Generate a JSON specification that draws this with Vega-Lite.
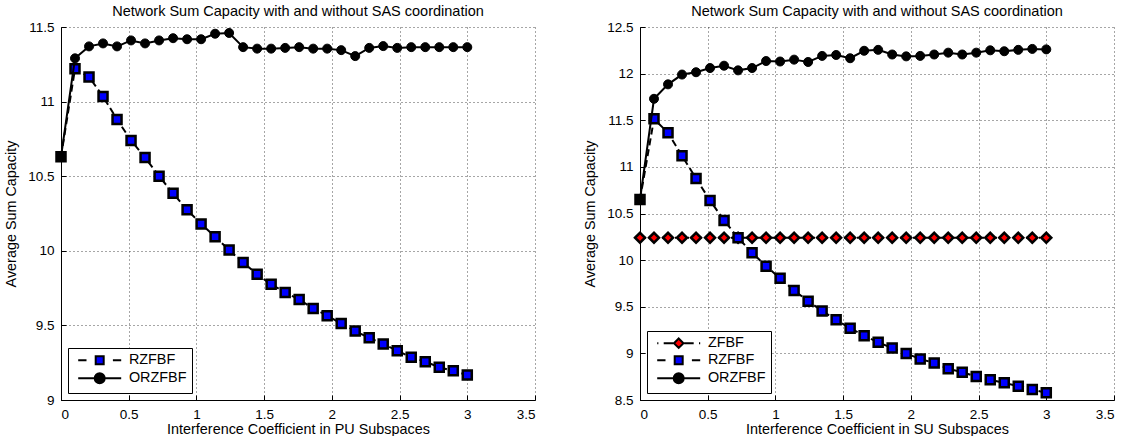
{
  "$schema": "https://vega.github.io/schema/vega-lite/v6.json",
  "padding": {"left": 3, "top": 3, "right": 0, "bottom": 0},
  "background": "white",
  "config": {
    "font": "Liberation Sans",
    "view": {"stroke": null},
    "axis": {
      "labelFont": "Liberation Sans", "labelFontSize": 13.5, "labelColor": "black",
      "titleFont": "Liberation Sans", "titleFontSize": 14.4, "titleFontWeight": "normal", "titleColor": "black",
      "domainColor": "black", "domainWidth": 1, "tickColor": "black", "tickSize": -5, "tickWidth": 1,
      "gridColor": "black", "gridDash": [1, 3], "gridOpacity": 0.7, "gridWidth": 1,
      "labelPadding": 12
    },
    "axisX": {"titlePadding": 2},
    "axisY": {"titlePadding": 9},
    "title": {"font": "Liberation Sans", "fontSize": 14.5, "fontWeight": "normal", "color": "black", "offset": 1},
    "legend": {
      "orient": "bottom-left", "offset": 7, "strokeColor": "black", "fillColor": "white", "padding": 5,
      "symbolSize": 100, "symbolStrokeWidth": 2, "symbolStrokeColor": "black", "symbolOffset": 19.5,
      "labelFont": "Liberation Sans", "labelFontSize": 14.4, "labelColor": "black", "labelOffset": 22, "rowPadding": 0
    },
    "concat": {"spacing": 46}
  },
  "datasets": {
    "pu": [
      {"x": 0, "y": 10.63, "series": "RZFBF"},
      {"x": 0.1034, "y": 11.22, "series": "RZFBF"},
      {"x": 0.2069, "y": 11.165, "series": "RZFBF"},
      {"x": 0.3103, "y": 11.035, "series": "RZFBF"},
      {"x": 0.4138, "y": 10.88, "series": "RZFBF"},
      {"x": 0.5172, "y": 10.74, "series": "RZFBF"},
      {"x": 0.6207, "y": 10.625, "series": "RZFBF"},
      {"x": 0.7241, "y": 10.5, "series": "RZFBF"},
      {"x": 0.8276, "y": 10.385, "series": "RZFBF"},
      {"x": 0.931, "y": 10.275, "series": "RZFBF"},
      {"x": 1.0345, "y": 10.18, "series": "RZFBF"},
      {"x": 1.1379, "y": 10.095, "series": "RZFBF"},
      {"x": 1.2414, "y": 10.005, "series": "RZFBF"},
      {"x": 1.3448, "y": 9.922, "series": "RZFBF"},
      {"x": 1.4483, "y": 9.842, "series": "RZFBF"},
      {"x": 1.5517, "y": 9.775, "series": "RZFBF"},
      {"x": 1.6552, "y": 9.721, "series": "RZFBF"},
      {"x": 1.7586, "y": 9.674, "series": "RZFBF"},
      {"x": 1.8621, "y": 9.614, "series": "RZFBF"},
      {"x": 1.9655, "y": 9.565, "series": "RZFBF"},
      {"x": 2.069, "y": 9.513, "series": "RZFBF"},
      {"x": 2.1724, "y": 9.462, "series": "RZFBF"},
      {"x": 2.2759, "y": 9.417, "series": "RZFBF"},
      {"x": 2.3793, "y": 9.375, "series": "RZFBF"},
      {"x": 2.4828, "y": 9.33, "series": "RZFBF"},
      {"x": 2.5862, "y": 9.286, "series": "RZFBF"},
      {"x": 2.6897, "y": 9.257, "series": "RZFBF"},
      {"x": 2.7931, "y": 9.219, "series": "RZFBF"},
      {"x": 2.8966, "y": 9.196, "series": "RZFBF"},
      {"x": 3.0, "y": 9.167, "series": "RZFBF"},
      {"x": 0, "y": 10.63, "series": "ORZFBF"},
      {"x": 0.1034, "y": 11.29, "series": "ORZFBF"},
      {"x": 0.2069, "y": 11.37, "series": "ORZFBF"},
      {"x": 0.3103, "y": 11.39, "series": "ORZFBF"},
      {"x": 0.4138, "y": 11.37, "series": "ORZFBF"},
      {"x": 0.5172, "y": 11.41, "series": "ORZFBF"},
      {"x": 0.6207, "y": 11.39, "series": "ORZFBF"},
      {"x": 0.7241, "y": 11.41, "series": "ORZFBF"},
      {"x": 0.8276, "y": 11.425, "series": "ORZFBF"},
      {"x": 0.931, "y": 11.418, "series": "ORZFBF"},
      {"x": 1.0345, "y": 11.418, "series": "ORZFBF"},
      {"x": 1.1379, "y": 11.455, "series": "ORZFBF"},
      {"x": 1.2414, "y": 11.46, "series": "ORZFBF"},
      {"x": 1.3448, "y": 11.365, "series": "ORZFBF"},
      {"x": 1.4483, "y": 11.355, "series": "ORZFBF"},
      {"x": 1.5517, "y": 11.355, "series": "ORZFBF"},
      {"x": 1.6552, "y": 11.36, "series": "ORZFBF"},
      {"x": 1.7586, "y": 11.365, "series": "ORZFBF"},
      {"x": 1.8621, "y": 11.355, "series": "ORZFBF"},
      {"x": 1.9655, "y": 11.355, "series": "ORZFBF"},
      {"x": 2.069, "y": 11.345, "series": "ORZFBF"},
      {"x": 2.1724, "y": 11.305, "series": "ORZFBF"},
      {"x": 2.2759, "y": 11.36, "series": "ORZFBF"},
      {"x": 2.3793, "y": 11.372, "series": "ORZFBF"},
      {"x": 2.4828, "y": 11.36, "series": "ORZFBF"},
      {"x": 2.5862, "y": 11.365, "series": "ORZFBF"},
      {"x": 2.6897, "y": 11.365, "series": "ORZFBF"},
      {"x": 2.7931, "y": 11.365, "series": "ORZFBF"},
      {"x": 2.8966, "y": 11.365, "series": "ORZFBF"},
      {"x": 3.0, "y": 11.365, "series": "ORZFBF"}
    ],
    "su": [
      {"x": 0, "y": 10.24, "series": "ZFBF"},
      {"x": 0.1034, "y": 10.24, "series": "ZFBF"},
      {"x": 0.2069, "y": 10.24, "series": "ZFBF"},
      {"x": 0.3103, "y": 10.24, "series": "ZFBF"},
      {"x": 0.4138, "y": 10.24, "series": "ZFBF"},
      {"x": 0.5172, "y": 10.24, "series": "ZFBF"},
      {"x": 0.6207, "y": 10.24, "series": "ZFBF"},
      {"x": 0.7241, "y": 10.24, "series": "ZFBF"},
      {"x": 0.8276, "y": 10.24, "series": "ZFBF"},
      {"x": 0.931, "y": 10.24, "series": "ZFBF"},
      {"x": 1.0345, "y": 10.24, "series": "ZFBF"},
      {"x": 1.1379, "y": 10.24, "series": "ZFBF"},
      {"x": 1.2414, "y": 10.24, "series": "ZFBF"},
      {"x": 1.3448, "y": 10.24, "series": "ZFBF"},
      {"x": 1.4483, "y": 10.24, "series": "ZFBF"},
      {"x": 1.5517, "y": 10.24, "series": "ZFBF"},
      {"x": 1.6552, "y": 10.24, "series": "ZFBF"},
      {"x": 1.7586, "y": 10.24, "series": "ZFBF"},
      {"x": 1.8621, "y": 10.24, "series": "ZFBF"},
      {"x": 1.9655, "y": 10.24, "series": "ZFBF"},
      {"x": 2.069, "y": 10.24, "series": "ZFBF"},
      {"x": 2.1724, "y": 10.24, "series": "ZFBF"},
      {"x": 2.2759, "y": 10.24, "series": "ZFBF"},
      {"x": 2.3793, "y": 10.24, "series": "ZFBF"},
      {"x": 2.4828, "y": 10.24, "series": "ZFBF"},
      {"x": 2.5862, "y": 10.24, "series": "ZFBF"},
      {"x": 2.6897, "y": 10.24, "series": "ZFBF"},
      {"x": 2.7931, "y": 10.24, "series": "ZFBF"},
      {"x": 2.8966, "y": 10.24, "series": "ZFBF"},
      {"x": 3.0, "y": 10.24, "series": "ZFBF"},
      {"x": 0, "y": 10.65, "series": "RZFBF"},
      {"x": 0.1034, "y": 11.515, "series": "RZFBF"},
      {"x": 0.2069, "y": 11.365, "series": "RZFBF"},
      {"x": 0.3103, "y": 11.12, "series": "RZFBF"},
      {"x": 0.4138, "y": 10.875, "series": "RZFBF"},
      {"x": 0.5172, "y": 10.64, "series": "RZFBF"},
      {"x": 0.6207, "y": 10.425, "series": "RZFBF"},
      {"x": 0.7241, "y": 10.24, "series": "RZFBF"},
      {"x": 0.8276, "y": 10.08, "series": "RZFBF"},
      {"x": 0.931, "y": 9.935, "series": "RZFBF"},
      {"x": 1.0345, "y": 9.805, "series": "RZFBF"},
      {"x": 1.1379, "y": 9.675, "series": "RZFBF"},
      {"x": 1.2414, "y": 9.56, "series": "RZFBF"},
      {"x": 1.3448, "y": 9.455, "series": "RZFBF"},
      {"x": 1.4483, "y": 9.36, "series": "RZFBF"},
      {"x": 1.5517, "y": 9.27, "series": "RZFBF"},
      {"x": 1.6552, "y": 9.19, "series": "RZFBF"},
      {"x": 1.7586, "y": 9.118, "series": "RZFBF"},
      {"x": 1.8621, "y": 9.058, "series": "RZFBF"},
      {"x": 1.9655, "y": 9.0, "series": "RZFBF"},
      {"x": 2.069, "y": 8.94, "series": "RZFBF"},
      {"x": 2.1724, "y": 8.898, "series": "RZFBF"},
      {"x": 2.2759, "y": 8.835, "series": "RZFBF"},
      {"x": 2.3793, "y": 8.798, "series": "RZFBF"},
      {"x": 2.4828, "y": 8.752, "series": "RZFBF"},
      {"x": 2.5862, "y": 8.716, "series": "RZFBF"},
      {"x": 2.6897, "y": 8.684, "series": "RZFBF"},
      {"x": 2.7931, "y": 8.648, "series": "RZFBF"},
      {"x": 2.8966, "y": 8.612, "series": "RZFBF"},
      {"x": 3.0, "y": 8.577, "series": "RZFBF"},
      {"x": 0, "y": 10.65, "series": "ORZFBF"},
      {"x": 0.1034, "y": 11.73, "series": "ORZFBF"},
      {"x": 0.2069, "y": 11.885, "series": "ORZFBF"},
      {"x": 0.3103, "y": 11.99, "series": "ORZFBF"},
      {"x": 0.4138, "y": 12.015, "series": "ORZFBF"},
      {"x": 0.5172, "y": 12.06, "series": "ORZFBF"},
      {"x": 0.6207, "y": 12.085, "series": "ORZFBF"},
      {"x": 0.7241, "y": 12.035, "series": "ORZFBF"},
      {"x": 0.8276, "y": 12.06, "series": "ORZFBF"},
      {"x": 0.931, "y": 12.135, "series": "ORZFBF"},
      {"x": 1.0345, "y": 12.13, "series": "ORZFBF"},
      {"x": 1.1379, "y": 12.15, "series": "ORZFBF"},
      {"x": 1.2414, "y": 12.125, "series": "ORZFBF"},
      {"x": 1.3448, "y": 12.19, "series": "ORZFBF"},
      {"x": 1.4483, "y": 12.2, "series": "ORZFBF"},
      {"x": 1.5517, "y": 12.165, "series": "ORZFBF"},
      {"x": 1.6552, "y": 12.245, "series": "ORZFBF"},
      {"x": 1.7586, "y": 12.255, "series": "ORZFBF"},
      {"x": 1.8621, "y": 12.205, "series": "ORZFBF"},
      {"x": 1.9655, "y": 12.185, "series": "ORZFBF"},
      {"x": 2.069, "y": 12.19, "series": "ORZFBF"},
      {"x": 2.1724, "y": 12.205, "series": "ORZFBF"},
      {"x": 2.2759, "y": 12.225, "series": "ORZFBF"},
      {"x": 2.3793, "y": 12.205, "series": "ORZFBF"},
      {"x": 2.4828, "y": 12.225, "series": "ORZFBF"},
      {"x": 2.5862, "y": 12.25, "series": "ORZFBF"},
      {"x": 2.6897, "y": 12.24, "series": "ORZFBF"},
      {"x": 2.7931, "y": 12.255, "series": "ORZFBF"},
      {"x": 2.8966, "y": 12.265, "series": "ORZFBF"},
      {"x": 3.0, "y": 12.26, "series": "ORZFBF"}
    ]
  },
  "resolve": {
    "scale": {"x": "independent", "y": "independent", "shape": "independent", "fill": "independent", "stroke": "independent"},
    "legend": {"shape": "independent", "fill": "independent", "stroke": "independent"}
  },
  "hconcat": [
    {
      "title": "Network Sum Capacity with and without SAS coordination",
      "width": 474,
      "height": 373,
      "data": {"name": "pu"},
      "encoding": {
        "x": {"field": "x", "type": "quantitative", "scale": {"domain": [0, 3.5], "nice": false},
          "axis": {"values": [0, 0.5, 1, 1.5, 2, 2.5, 3, 3.5], "format": "~g", "title": "Interference Coefficient in PU Subspaces"}},
        "y": {"field": "y", "type": "quantitative", "scale": {"domain": [9, 11.5], "nice": false, "zero": false},
          "axis": {"values": [9, 9.5, 10, 10.5, 11, 11.5], "format": "~g", "title": "Average Sum Capacity"}}
      },
      "layer": [
        {"transform": [{"filter": "datum.series === 'RZFBF'"}],
         "mark": {"type": "line", "color": "black", "strokeWidth": 2, "strokeDash": [7, 4]}},
        {"transform": [{"filter": "datum.series === 'RZFBF'"}],
         "mark": {"type": "point", "shape": "square", "filled": true, "fill": "#0000ff", "stroke": "black", "strokeWidth": 2.5, "size": 81, "opacity": 1}},
        {"transform": [{"filter": "datum.series === 'ORZFBF'"}],
         "mark": {"type": "line", "color": "black", "strokeWidth": 2}},
        {"transform": [{"filter": "datum.series === 'ORZFBF'"}],
         "mark": {"type": "point", "shape": "circle", "filled": true, "fill": "black", "stroke": "black", "strokeWidth": 1, "size": 81, "opacity": 1}},
        {"transform": [{"filter": "false"}],
         "mark": {"type": "point", "filled": true, "strokeWidth": 2, "opacity": 1},
         "encoding": {
           "shape": {"field": "series", "type": "nominal",
             "scale": {"domain": ["RZFBF", "ORZFBF"], "range": ["M-4.3,0H-2.64M2.64,0H4.3M-0.8,-0.8H0.8V0.8H-0.8Z", "M-4.3,0H4.3M1,0A1,1,0,1,1,-1,0A1,1,0,1,1,1,0Z"]},
             "legend": {"title": null}},
           "fill": {"field": "series", "type": "nominal",
             "scale": {"domain": ["RZFBF", "ORZFBF"], "range": ["#0000ff", "black"]},
             "legend": {"title": null}},
           "stroke": {"field": "series", "type": "nominal",
             "scale": {"domain": ["RZFBF", "ORZFBF"], "range": ["black", "black"]},
             "legend": {"title": null}}
         }}
      ]
    },
    {
      "title": "Network Sum Capacity with and without SAS coordination",
      "width": 474,
      "height": 373,
      "data": {"name": "su"},
      "encoding": {
        "x": {"field": "x", "type": "quantitative", "scale": {"domain": [0, 3.5], "nice": false},
          "axis": {"values": [0, 0.5, 1, 1.5, 2, 2.5, 3, 3.5], "format": "~g", "title": "Interference Coefficient in SU Subspaces"}},
        "y": {"field": "y", "type": "quantitative", "scale": {"domain": [8.5, 12.5], "nice": false, "zero": false},
          "axis": {"values": [8.5, 9, 9.5, 10, 10.5, 11, 11.5, 12, 12.5], "format": "~g", "title": "Average Sum Capacity"}}
      },
      "layer": [
        {"transform": [{"filter": "datum.series === 'ZFBF'"}],
         "mark": {"type": "line", "color": "black", "strokeWidth": 2, "strokeDash": [6, 3, 1, 3]}},
        {"transform": [{"filter": "datum.series === 'ZFBF'"}],
         "mark": {"type": "point", "shape": "diamond", "filled": true, "fill": "#ff0000", "stroke": "black", "strokeWidth": 2.5, "size": 100, "opacity": 1}},
        {"transform": [{"filter": "datum.series === 'RZFBF'"}],
         "mark": {"type": "line", "color": "black", "strokeWidth": 2, "strokeDash": [7, 4]}},
        {"transform": [{"filter": "datum.series === 'RZFBF'"}],
         "mark": {"type": "point", "shape": "square", "filled": true, "fill": "#0000ff", "stroke": "black", "strokeWidth": 2.5, "size": 81, "opacity": 1}},
        {"transform": [{"filter": "datum.series === 'ORZFBF'"}],
         "mark": {"type": "line", "color": "black", "strokeWidth": 2}},
        {"transform": [{"filter": "datum.series === 'ORZFBF'"}],
         "mark": {"type": "point", "shape": "circle", "filled": true, "fill": "black", "stroke": "black", "strokeWidth": 1, "size": 81, "opacity": 1}},
        {"transform": [{"filter": "false"}],
         "mark": {"type": "point", "filled": true, "strokeWidth": 2, "opacity": 1},
         "encoding": {
           "shape": {"field": "series", "type": "nominal",
             "scale": {"domain": ["ZFBF", "RZFBF", "ORZFBF"], "range": ["M-4.3,0H-4.06M-3,0H-1.1M1.1,0H3M4.06,0H4.3M0,-0.95L0.95,0L0,0.95L-0.95,0Z", "M-4.3,0H-2.64M2.64,0H4.3M-0.8,-0.8H0.8V0.8H-0.8Z", "M-4.3,0H4.3M1,0A1,1,0,1,1,-1,0A1,1,0,1,1,1,0Z"]},
             "legend": {"title": null}},
           "fill": {"field": "series", "type": "nominal",
             "scale": {"domain": ["ZFBF", "RZFBF", "ORZFBF"], "range": ["#ff0000", "#0000ff", "black"]},
             "legend": {"title": null}},
           "stroke": {"field": "series", "type": "nominal",
             "scale": {"domain": ["ZFBF", "RZFBF", "ORZFBF"], "range": ["black", "black", "black"]},
             "legend": {"title": null}}
         }}
      ]
    }
  ]
}
